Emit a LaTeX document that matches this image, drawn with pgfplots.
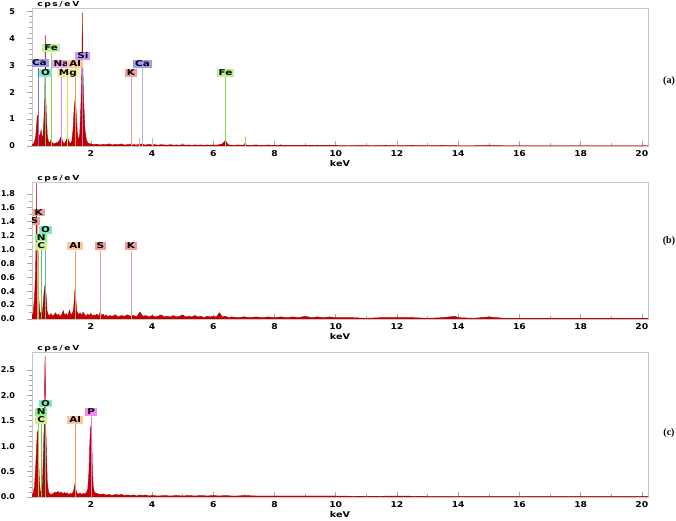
\documentclass[border=0pt]{standalone}
\usepackage{pgfplots}
\pgfplotsset{compat=1.18}
\usepackage{fontspec}
\setmainfont{DejaVu Sans}
\newfontfamily\lserif{Liberation Serif}

\definecolor{specred}{HTML}{C00000}
\definecolor{lblFe}{HTML}{BEF096}
\definecolor{lblCa}{HTML}{9C9CF5}
\definecolor{lblO}{HTML}{7EEBC0}
\definecolor{lblNa}{HTML}{F2A6F2}
\definecolor{lblAl}{HTML}{F8C89A}
\definecolor{lblMg}{HTML}{F5F08C}
\definecolor{lblSi}{HTML}{C89CF5}
\definecolor{lblK}{HTML}{F29C9C}
\definecolor{lblN}{HTML}{8CF08C}
\definecolor{lblC}{HTML}{D2F08C}
\definecolor{lblP}{HTML}{F08CF0}
\definecolor{lnFe}{HTML}{8CD850}
\definecolor{lnCa}{HTML}{7070E8}
\definecolor{lnCaK}{HTML}{B4B4F0}
\definecolor{lnO}{HTML}{50C890}
\definecolor{lnNa}{HTML}{E08CE0}
\definecolor{lnAl}{HTML}{E0A060}
\definecolor{lnMg}{HTML}{E0D850}
\definecolor{lnSi}{HTML}{A878E8}
\definecolor{lnK}{HTML}{E4A4A4}
\definecolor{lnN}{HTML}{60C860}
\definecolor{lnC}{HTML}{A8C850}
\definecolor{lnP}{HTML}{E070E0}

\tikzset{
  el/.style={fill=#1, inner xsep=1.5pt, inner ysep=0.8pt, xscale=1.3,
    font=\fontsize{8}{8}\selectfont\bfseries, text height=5.8pt, text depth=0.3pt},
}
\pgfplotsset{
  eds/.style={
    anchor=south west, scale only axis, width=616pt,
    xmin=0.08, xmax=20.2,
    xtick={2,4,...,20}, minor x tick num=1,
    xtick align=inside, ytick align=outside,
    xtick pos=bottom, ytick pos=left,
    axis line style={draw=gray!45},
    tick style={gray!70, line width=0.5pt},
    major tick length=5pt, minor tick length=3pt,
    tick label style={font=\fontsize{8}{9}\selectfont\bfseries},
    /pgf/number format/assume math mode=true,
    xticklabel style={yshift=-1pt, xscale=1.15},
    xlabel={keV},
    xlabel style={font=\fontsize{8}{9}\selectfont\bfseries, xscale=1.2, yshift=3.5pt},
    yticklabel style={xshift=-8.5pt},
  },
  spec/.style={draw=specred, fill=specred, line width=0.4pt, mark=none},
  mk/.style={ycomb, draw=#1, line width=0.7pt, mark=none},
}

\begin{document}
\begin{tikzpicture}
\path[use as bounding box] (0,0) rectangle (676pt,521pt);

% ---------------- (a)
\begin{axis}[eds, name=pa, at={(32pt,375pt)}, height=138pt,
  ymin=0, ymax=5.12, ytick={0,1,2,3,4,5}, minor y tick num=4]
\addplot[spec] coordinates {
(0.08,0.03) (0.12,0.08) (0.16,0.15) (0.20,0.35) (0.23,0.8) (0.26,1.15) (0.29,0.6)
(0.32,0.3) (0.35,0.45) (0.38,0.6) (0.41,0.3) (0.44,0.4) (0.47,1.0) (0.50,1.85)
(0.515,4.1) (0.53,1.8) (0.55,1.1) (0.58,0.4) (0.62,0.15) (0.66,0.12) (0.70,0.22)
(0.74,0.12) (0.80,0.08) (0.86,0.11) (0.92,0.13) (0.98,0.2) (1.01,0.32) (1.04,0.35)
(1.07,0.2) (1.12,0.08) (1.17,0.14) (1.22,0.27) (1.25,0.3) (1.28,0.18) (1.33,0.08)
(1.38,0.18) (1.42,0.6) (1.46,1.45) (1.49,1.75) (1.52,1.3) (1.56,0.5) (1.60,0.2)
(1.64,0.45) (1.68,1.6) (1.71,2.9) (1.725,4.95) (1.74,2.85) (1.77,1.6) (1.81,0.6)
(1.86,0.2) (1.92,0.1) (2.0,0.08) (2.1,0.05) (2.2,0.07) (2.3,0.04) (2.4,0.06)
(2.5,0.05) (2.6,0.08) (2.7,0.04) (2.8,0.06) (2.9,0.05) (3.0,0.07) (3.1,0.04)
(3.2,0.05) (3.28,0.06) (3.31,0.08) (3.35,0.04) (3.4,0.05) (3.5,0.04) (3.6,0.06)
(3.66,0.07) (3.69,0.1) (3.72,0.05) (3.8,0.04) (3.9,0.06) (4.0,0.04) (4.1,0.05)
(4.2,0.03) (4.3,0.05) (4.4,0.04) (4.5,0.03) (4.6,0.05) (4.7,0.03) (4.8,0.04)
(4.9,0.03) (5.0,0.05) (5.1,0.03) (5.2,0.04) (5.3,0.02) (5.4,0.04) (5.5,0.03)
(5.6,0.04) (5.7,0.02) (5.8,0.04) (5.9,0.03) (6.0,0.04) (6.1,0.03) (6.2,0.05)
(6.3,0.08) (6.36,0.15) (6.40,0.22) (6.44,0.12) (6.5,0.04) (6.6,0.03) (6.7,0.02)
(6.8,0.04) (6.9,0.03) (7.0,0.04) (7.06,0.05) (7.1,0.03) (7.2,0.02) (7.3,0.03)
(7.4,0.04) (7.5,0.02) (7.6,0.03) (7.7,0.02) (7.8,0.04) (7.9,0.02) (8.0,0.03)
(8.1,0.02) (8.2,0.04) (8.3,0.02) (8.4,0.03) (8.5,0.02) (8.6,0.03) (8.7,0.02)
(8.8,0.03) (8.9,0.02) (9.0,0.03) (9.2,0.02) (9.4,0.03) (9.6,0.02) (9.8,0.03)
(10.0,0.02) (10.4,0.01) (10.8,0.02) (11.2,0.01) (11.6,0.02) (12.0,0.01) (12.5,0.02)
(13.0,0.01) (13.5,0.02) (14.0,0.01) (14.5,0.01) (15.0,0.02) (15.5,0.01) (16.0,0.01)
(17.0,0.01) (18.0,0.01) (19.0,0.01) (20.2,0.01)
} \closedcycle;
\addplot[mk=lnCa] coordinates {(0.30,2.9)};
\addplot[mk=lnO]  coordinates {(0.525,2.55)};
\addplot[mk=lnFe] coordinates {(0.705,3.45)};
\addplot[mk=lnNa] coordinates {(1.04,2.88)};
\addplot[mk=lnMg] coordinates {(1.25,2.55)};
\addplot[mk=lnAl] coordinates {(1.49,2.88)};
\addplot[mk=lnSi] coordinates {(1.74,3.17)};
\addplot[mk=lnK]  coordinates {(3.31,2.55) (3.59,0.3)};
\addplot[mk=lnCaK] coordinates {(3.69,2.88) (4.01,0.3)};
\addplot[mk=lnFe] coordinates {(6.40,2.55) (7.06,0.35)};
\node[el=lblCa] at (axis cs:0.32,3.07) {Ca};
\node[el=lblO]  at (axis cs:0.525,2.72) {O};
\node[el=lblFe] at (axis cs:0.705,3.63) {Fe};
\node[el=lblNa] at (axis cs:1.04,3.05) {Na};
\node[el=lblMg] at (axis cs:1.25,2.72) {Mg};
\node[el=lblAl] at (axis cs:1.49,3.05) {Al};
\node[el=lblSi] at (axis cs:1.74,3.35) {Si};
\node[el=lblK]  at (axis cs:3.31,2.72) {K};
\node[el=lblCa] at (axis cs:3.69,3.05) {Ca};
\node[el=lblFe] at (axis cs:6.40,2.72) {Fe};
\end{axis}

% ---------------- (b)
\begin{axis}[eds, name=pb, at={(32pt,202pt)}, height=137pt,
  ymin=0, ymax=1.97, ytick={0,0.2,...,1.81}, minor y tick num=1,
  yticklabel style={/pgf/number format/.cd, fixed, fixed zerofill, precision=1}]
\addplot[spec] coordinates {
(0.08,0.03) (0.12,0.1) (0.16,0.3) (0.19,0.6) (0.21,1.0) (0.225,1.95) (0.235,0.95)
(0.25,0.55) (0.28,0.48) (0.31,0.25) (0.34,0.1) (0.38,0.07) (0.42,0.1) (0.45,0.25)
(0.48,0.42) (0.51,0.5) (0.54,0.35) (0.57,0.12) (0.61,0.06) (0.65,0.05) (0.7,0.08)
(0.75,0.04) (0.8,0.06) (0.85,0.09) (0.9,0.05) (0.95,0.07) (1.0,0.04) (1.05,0.06)
(1.1,0.12) (1.15,0.05) (1.2,0.08) (1.25,0.04) (1.3,0.13) (1.35,0.06) (1.4,0.08)
(1.44,0.15) (1.47,0.35) (1.49,0.45) (1.51,0.3) (1.54,0.12) (1.6,0.06) (1.65,0.09)
(1.7,0.05) (1.75,0.1) (1.8,0.06) (1.85,0.04) (1.9,0.07) (1.95,0.05) (2.0,0.08)
(2.05,0.04) (2.1,0.06) (2.15,0.05) (2.2,0.07) (2.25,0.04) (2.31,0.1) (2.35,0.05)
(2.4,0.07) (2.45,0.04) (2.5,0.06) (2.55,0.03) (2.6,0.05) (2.7,0.04) (2.8,0.06)
(2.9,0.03) (3.0,0.05) (3.1,0.04) (3.2,0.06) (3.3,0.04) (3.4,0.05) (3.5,0.03)
(3.6,0.1) (3.7,0.04) (3.8,0.05) (3.9,0.03) (4.0,0.05) (4.1,0.03) (4.2,0.04)
(4.3,0.06) (4.4,0.03) (4.5,0.04) (4.6,0.03) (4.7,0.05) (4.8,0.03) (4.9,0.04)
(5.0,0.06) (5.1,0.03) (5.2,0.04) (5.3,0.03) (5.4,0.05) (5.5,0.03) (5.6,0.04)
(5.7,0.02) (5.8,0.04) (5.9,0.03) (6.0,0.04) (6.1,0.03) (6.2,0.09) (6.3,0.03)
(6.4,0.04) (6.5,0.02) (6.6,0.03) (6.8,0.02) (7.0,0.03) (7.2,0.02) (7.4,0.03)
(7.6,0.02) (7.8,0.03) (8.0,0.02) (8.2,0.03) (8.4,0.02) (8.6,0.03) (8.8,0.02)
(9.0,0.04) (9.2,0.02) (9.4,0.03) (9.6,0.02) (9.8,0.03) (10.0,0.02) (10.5,0.02)
(11.0,0.01) (11.5,0.02) (12.0,0.02) (12.5,0.02) (13.0,0.01) (13.5,0.02) (13.9,0.04)
(14.0,0.02) (14.5,0.01) (15.0,0.03) (15.5,0.01) (16.0,0.01) (17.0,0.01) (18.0,0.01)
(19.0,0.01) (20.2,0.01)
} \closedcycle;
\addplot[mk=lnK]  coordinates {(0.24,1.45)};
\addplot[mk=lnC]  coordinates {(0.277,0.98)};
\addplot[mk=lnN]  coordinates {(0.392,1.1)};
\addplot[mk=lnO]  coordinates {(0.525,1.2)};
\addplot[mk=lnAl] coordinates {(1.49,0.98)};
\addplot[mk=lnK]  coordinates {(2.31,0.98) (3.31,0.98)};
\node[el=lblK] at (axis cs:0.16,1.41) {S};
\node[el=lblK] at (axis cs:0.30,1.53) {K};
\node[el=lblO] at (axis cs:0.52,1.28) {O};
\node[el=lblN] at (axis cs:0.38,1.17) {N};
\node[el=lblC] at (axis cs:0.38,1.05) {C};
\node[el=lblAl] at (axis cs:1.49,1.05) {Al};
\node[el=lblK] at (axis cs:2.31,1.05) {S};
\node[el=lblK] at (axis cs:3.31,1.05) {K};
\end{axis}

% ---------------- (c)
\begin{axis}[eds, name=pc, at={(32pt,24pt)}, height=145pt,
  ymin=0, ymax=2.85, ytick={0,0.5,...,2.6}, minor y tick num=4,
  yticklabel style={/pgf/number format/.cd, fixed, fixed zerofill, precision=1}]
\addplot[spec] coordinates {
(0.08,0.03) (0.12,0.08) (0.16,0.2) (0.20,0.6) (0.23,1.0) (0.26,1.3) (0.29,0.9)
(0.32,0.35) (0.35,0.12) (0.38,0.1) (0.42,0.25) (0.45,0.8) (0.48,1.45) (0.50,2.55)
(0.51,2.78) (0.525,1.5) (0.55,0.9) (0.58,0.3) (0.62,0.1) (0.67,0.06) (0.72,0.05)
(0.78,0.07) (0.83,0.1) (0.88,0.08) (0.93,0.11) (0.98,0.07) (1.03,0.1) (1.08,0.06)
(1.13,0.09) (1.18,0.07) (1.23,0.08) (1.28,0.05) (1.33,0.07) (1.38,0.06) (1.43,0.1)
(1.47,0.22) (1.49,0.28) (1.51,0.15) (1.55,0.07) (1.6,0.06) (1.65,0.08) (1.7,0.05)
(1.75,0.07) (1.8,0.06) (1.85,0.08) (1.9,0.15) (1.94,0.5) (1.97,1.1) (1.99,1.35)
(2.01,1.4) (2.03,1.2) (2.05,0.6) (2.08,0.2) (2.12,0.09) (2.2,0.07) (2.3,0.05)
(2.4,0.06) (2.5,0.04) (2.6,0.05) (2.7,0.03) (2.8,0.05) (2.9,0.04) (3.0,0.05)
(3.1,0.03) (3.2,0.04) (3.3,0.03) (3.4,0.04) (3.5,0.02) (3.6,0.04) (3.7,0.03)
(3.8,0.04) (3.9,0.02) (4.0,0.03) (4.2,0.02) (4.4,0.03) (4.6,0.02) (4.8,0.03)
(5.0,0.02) (5.2,0.03) (5.4,0.02) (5.6,0.03) (5.8,0.02) (6.0,0.03) (6.2,0.02)
(6.4,0.03) (6.6,0.02) (6.8,0.02) (7.0,0.03) (7.4,0.02) (7.8,0.02) (8.2,0.02)
(8.6,0.02) (9.0,0.02) (9.5,0.02) (10.0,0.02) (11.0,0.01) (12.0,0.02) (13.0,0.01)
(14.0,0.01) (15.0,0.01) (16.0,0.01) (17.0,0.01) (18.0,0.01) (19.0,0.01) (20.2,0.01)
} \closedcycle;
\addplot[mk=lnC]  coordinates {(0.277,1.43)};
\addplot[mk=lnN]  coordinates {(0.392,1.6)};
\addplot[mk=lnO]  coordinates {(0.525,1.77)};
\addplot[mk=lnAl] coordinates {(1.49,1.43)};
\addplot[mk=lnP]  coordinates {(2.01,1.58)};
\node[el=lblO] at (axis cs:0.52,1.84) {O};
\node[el=lblN] at (axis cs:0.38,1.67) {N};
\node[el=lblC] at (axis cs:0.38,1.51) {C};
\node[el=lblAl] at (axis cs:1.49,1.51) {Al};
\node[el=lblP] at (axis cs:2.01,1.67) {P};
\end{axis}

% units and panel letters
\foreach \ax in {pa,pb,pc}
  \node[anchor=base west, inner sep=0pt, xshift=5pt, yshift=1.2pt, xscale=1.3,
        font=\fontsize{7}{8}\selectfont\bfseries\addfontfeature{LetterSpace=18}]
        at (\ax.north west) {cps/eV};
\node[font=\lserif\fontsize{10}{12}\selectfont\bfseries] at (669pt,440pt) {(a)};
\node[font=\lserif\fontsize{10}{12}\selectfont\bfseries] at (669pt,280pt) {(b)};
\node[font=\lserif\fontsize{10}{12}\selectfont\bfseries] at (669pt,88pt) {(c)};
\end{tikzpicture}
\end{document}
